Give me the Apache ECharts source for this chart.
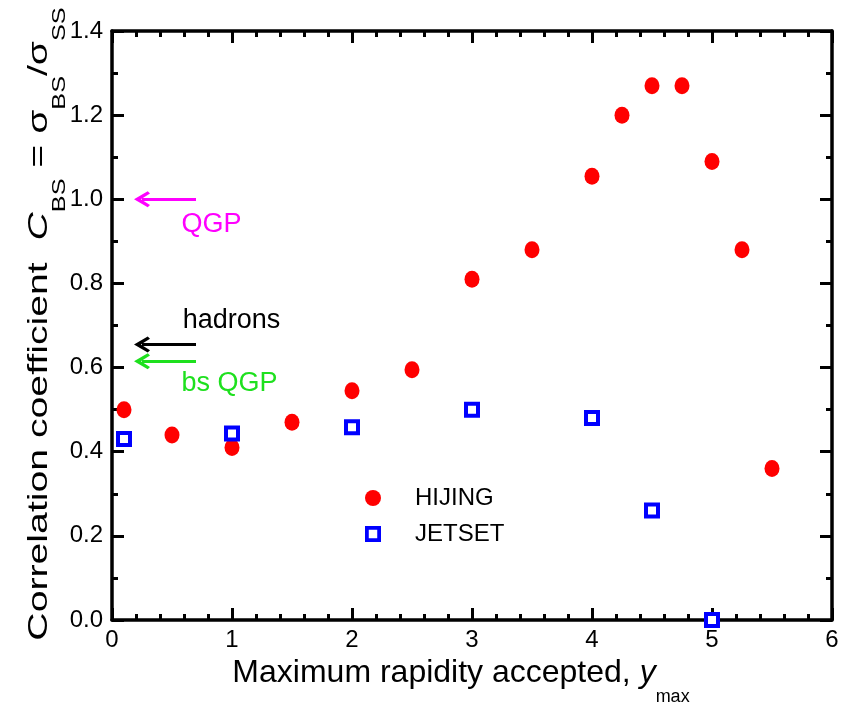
<!DOCTYPE html>
<html>
<head>
<meta charset="utf-8">
<script src="https://cdn.jsdelivr.net/npm/echarts@6/dist/echarts.min.js"></script>
<style>html,body{margin:0;background:#fff}#chart{width:852px;height:705px}</style>
</head>
<body>
<div id="chart"></div>
<script>
// HIJING points (red circles)
const hijingX = [0.1, 0.5, 1.0, 1.5, 2.0, 2.5, 3.0, 3.5, 4.0, 4.25, 4.5, 4.75, 5.0, 5.25, 5.5];
const hijingY = [0.50, 0.44, 0.41, 0.47, 0.545, 0.595, 0.81, 0.88, 1.055, 1.20, 1.27, 1.27, 1.09, 0.88, 0.36];
// JETSET points (blue open squares)
const jetsetX = [0.1, 1.0, 2.0, 3.0, 4.0, 4.5, 5.0];
const jetsetY = [0.43, 0.443, 0.458, 0.50, 0.48, 0.26, 0.0];
// reference arrows on the left
const arrowY = [1.0, 0.655, 0.615];
const arrowFrom = 0.7;
const arrowTo = 0.25;
const noteText = ['QGP', 'hadrons', 'bs QGP'];
const noteX = [0.58, 0.59, 0.58];
const noteY = [0.939, 0.711, 0.563];
const noteColor = ['#ff00ff', '#000000', '#1ee01e'];

const FONT = 'Liberation Sans';
const chevron = 'path://M7,0 L14,9 L12,10.5 L7,4.5 L2,10.5 L0,9 Z';
const hollowSquare = 'path://M0,0 L17,0 L17,17 L0,17 Z M4,4 L4,13 L13,13 L13,4 Z';

function zip(xs, ys) { return xs.map((x, i) => [x, ys[i]]); }

function axisStyle(split) {
  return {
    axisLine: {onZero: false, lineStyle: {color: '#000', width: 3.5}},
    axisTick: {inside: true, length: 12, lineStyle: {color: '#000', width: 3}},
    minorTick: {show: true, splitNumber: split, length: 6, lineStyle: {color: '#000', width: 3}},
    splitLine: {show: false}
  };
}

const chart = echarts.init(document.getElementById('chart'));
chart.setOption({
  animation: false,
  backgroundColor: '#fff',
  textStyle: {fontFamily: FONT},
  grid: {left: 112, right: 20, top: 31, bottom: 85, outerBoundsMode: 'none', containLabel: false},
  xAxis: [
    Object.assign({
      type: 'value', min: 0, max: 6, interval: 1, position: 'bottom',
      axisLabel: {fontSize: 24, color: '#000', margin: 8, fontFamily: FONT},
      name: '{n|Maximum rapidity accepted, }{i|y}{s|max}',
      nameLocation: 'middle', nameGap: 37,
      nameTextStyle: {
        padding: [0, 22, 0, 0],
        rich: {
          n: {fontSize: 32, lineHeight: 34, verticalAlign: 'top', color: '#000', fontFamily: FONT},
          i: {fontSize: 32, lineHeight: 34, verticalAlign: 'top', fontStyle: 'italic', color: '#000', fontFamily: FONT},
          s: {fontSize: 18, lineHeight: 18, verticalAlign: 'top', padding: [31, 0, 0, 0], color: '#000', fontFamily: FONT}
        }
      }
    }, axisStyle(5)),
    Object.assign({
      type: 'value', min: 0, max: 6, interval: 1, position: 'top',
      axisLabel: {show: false}
    }, axisStyle(5))
  ],
  yAxis: [
    Object.assign({
      type: 'value', min: 0, max: 1.4, interval: 0.2, position: 'left',
      axisLabel: {fontSize: 24, color: '#000', margin: 9, fontFamily: FONT, formatter: v => v.toFixed(1)}
    }, axisStyle(2)),
    Object.assign({
      type: 'value', min: 0, max: 1.4, interval: 0.2, position: 'right',
      axisLabel: {show: false}
    }, axisStyle(2))
  ],
  // y axis title, stretched along its length like the original
  graphic: [{
    type: 'text', x: 40, y: 324, rotation: Math.PI / 2, scaleX: 1.4, scaleY: 1,
    style: {
      text: '{n|Correlation coefficient  }{i|C}{s|BS}{n| = σ}{s|BS}{n|/σ}{s|SS}',
      align: 'center', verticalAlign: 'middle', fill: '#000',
      fontSize: 28, fontFamily: FONT,
      rich: {
        n: {fontSize: 28, lineHeight: 30, verticalAlign: 'top', fill: '#000', fontFamily: FONT},
        i: {fontSize: 28, lineHeight: 30, verticalAlign: 'top', fontStyle: 'italic', fill: '#000', fontFamily: FONT},
        s: {fontSize: 18, lineHeight: 18, verticalAlign: 'top', padding: [26, 0, 0, 0], fill: '#000', fontFamily: FONT}
      }
    }
  }],
  legend: {
    orient: 'vertical', left: 360, top: 481, itemWidth: 16, itemHeight: 16, itemGap: 12,
    selectedMode: false,
    textStyle: {fontSize: 24, color: '#000', fontFamily: FONT, padding: [0, 0, 0, 29]},
    data: [
      {name: 'HIJING'},
      {name: 'JETSET', icon: hollowSquare, itemStyle: {color: '#0000ff', borderWidth: 0}}
    ]
  },
  series: [
    {
      name: 'arrows', type: 'lines', coordinateSystem: 'cartesian2d',
      symbol: ['none', chevron], symbolSize: [14, 16], z: 3,
      data: arrowY.map((y, i) => ({
        coords: [[arrowFrom, y], [arrowTo, y]],
        lineStyle: {color: noteColor[i], width: 3, opacity: 1}
      }))
    },
    {
      name: 'notes', type: 'scatter', symbolSize: 0, silent: true,
      itemStyle: {opacity: 1},
      data: noteText.map((t, i) => ({
        name: t, value: [noteX[i], noteY[i]],
        label: {color: noteColor[i]}
      })),
      label: {
        show: true, position: 'right', distance: 0,
        textBorderWidth: 0, formatter: '{b}', fontSize: 27, fontFamily: FONT
      }
    },
    {
      name: 'HIJING', type: 'scatter', symbol: 'circle', symbolSize: [15, 17],
      itemStyle: {color: '#ff0000', opacity: 1},
      data: zip(hijingX, hijingY)
    },
    {
      name: 'JETSET', type: 'scatter', symbol: 'rect', symbolSize: 12,
      itemStyle: {color: '#ffffff', borderColor: '#0000ff', borderWidth: 4, opacity: 1},
      data: zip(jetsetX, jetsetY)
    }
  ]
});
</script>
</body>
</html>
